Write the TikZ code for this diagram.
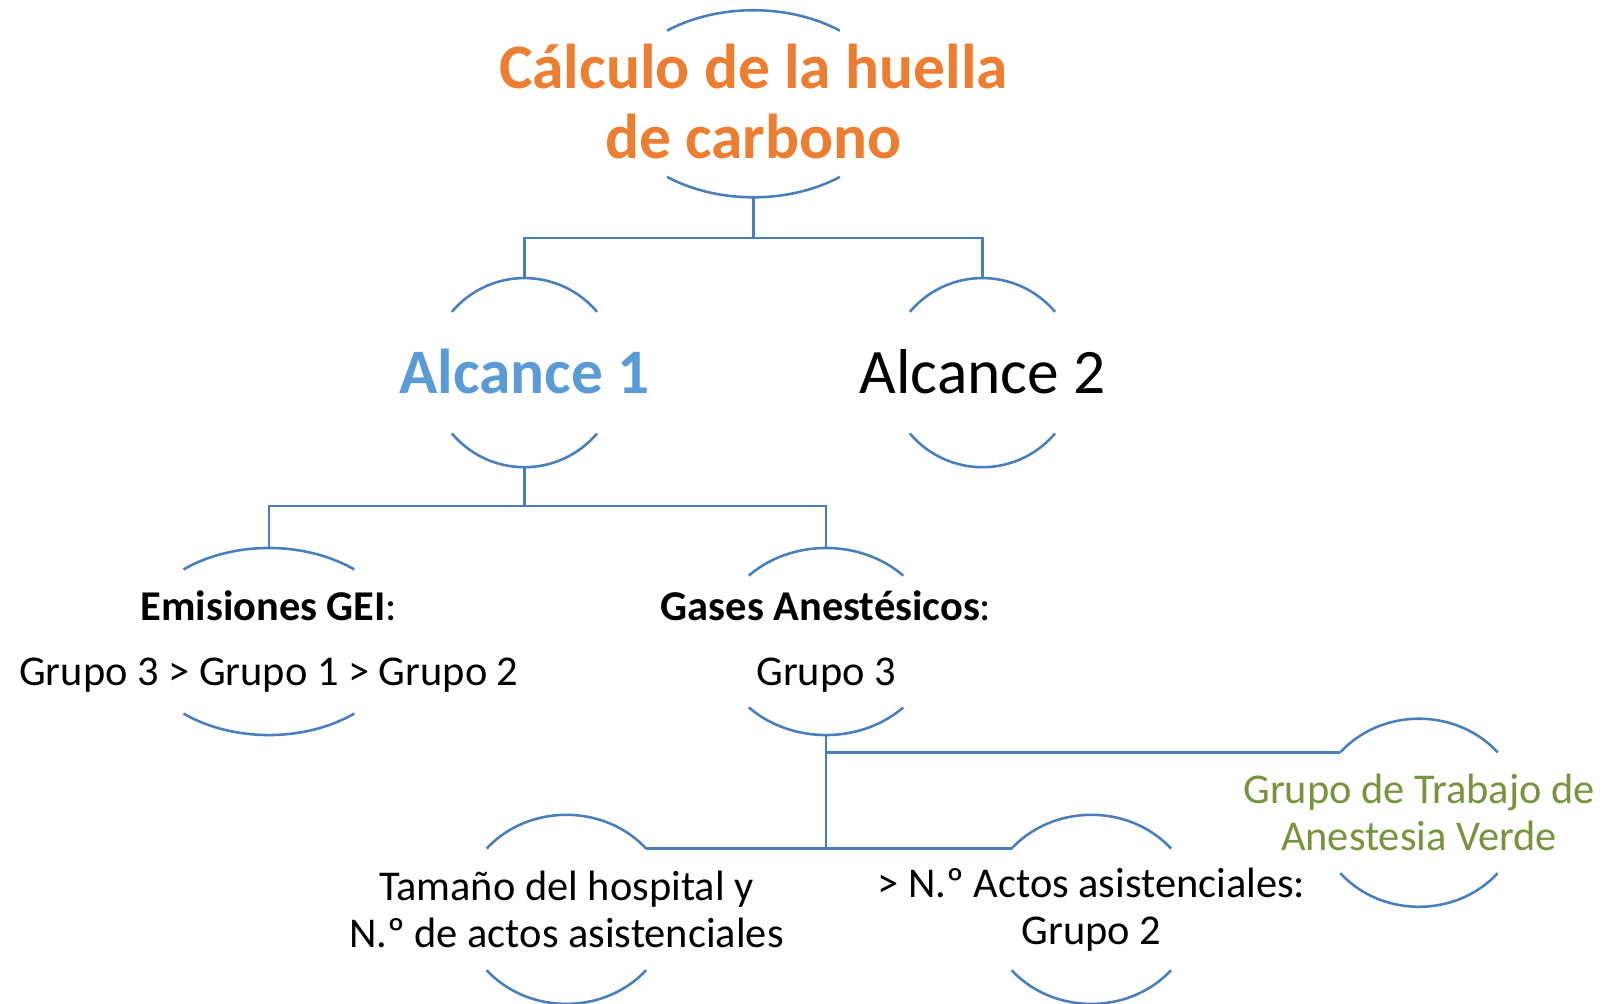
\documentclass[tikz,border=0pt]{standalone}
\usepackage{fontspec}
\setmainfont{Carlito}
\definecolor{linecol}{HTML}{4A7EBB}
\definecolor{orangec}{HTML}{ED7D31}
\definecolor{bluec}{HTML}{5B9BD5}
\definecolor{greenc}{HTML}{77933C}
\tikzset{
  ringarc/.style={draw=linecol, line width=2.5pt},
  conn/.style={draw=linecol, line width=2.5pt},
  bigreg/.style={font=\fontsize{62}{68}\selectfont, align=center, inner sep=0pt},
  bigbold/.style={font=\fontsize{62}{68}\selectfont\bfseries, align=center, inner sep=0pt},
  smalltxt/.style={font=\fontsize{41.5}{46}\selectfont, align=center, inner sep=0pt},
  smallwide/.style={font=\fontsize{41.5}{63}\selectfont, align=center, inner sep=0pt},
}
% name, cx, cy, a, b, theta
\newcommand\mkring[6]{%
  \coordinate (#1-c) at ({#2},{#3});
  \coordinate (#1-t) at ({#2},{#3-#5});
  \coordinate (#1-b) at ({#2},{#3+#5});
  \coordinate (#1-tl) at ({#2-#4*cos(#6)},{#3-#5*sin(#6)});
  \coordinate (#1-tr) at ({#2+#4*cos(#6)},{#3-#5*sin(#6)});
  \draw[ringarc] plot[domain=#6:180-#6, samples=40] ({#2+#4*cos(\x)},{#3-#5*sin(\x)});
  \draw[ringarc] plot[domain=#6:180-#6, samples=40] ({#2+#4*cos(\x)},{#3+#5*sin(\x)});
}
\begin{document}
\begin{tikzpicture}[x=1pt,y=-1pt]
\path[use as bounding box, fill=white] (0,0) rectangle (1568,982);

\mkring{T}{737}{101.5}{135.4}{91.5}{51.4}
\mkring{A1}{513}{364.5}{92.7}{92.5}{40}
\mkring{A2}{961}{364.5}{92.7}{92.5}{40}
\mkring{E}{263}{627.5}{131}{91.5}{50.4}
\mkring{G}{808}{627.5}{106.4}{91.5}{44.8}
\mkring{V}{1388}{795}{100.4}{92}{39.9}
\mkring{H}{554}{889.5}{101.8}{92.5}{40}
\mkring{N}{1067.5}{889.5}{101.8}{92.5}{40}

\node[bigbold, text=orangec, yshift=2pt] (Tt) at (T-c) {Cálculo de la huella\\de carbono};
\node[bigbold, text=bluec, yshift=1pt] (A1t) at (A1-c) {Alcance 1};
\node[bigreg, text=black, yshift=1pt] (A2t) at (A2-c) {Alcance 2};
\node[smallwide] (Et) at (E-c) {\textbf{Emisiones GEI}:\\Grupo 3 > Grupo 1 > Grupo 2};
\node[smallwide] (Gt) at (G-c) {\textbf{Gases Anestésicos}:\\Grupo 3};
\node[smalltxt, text=greenc] (Vt) at (V-c) {Grupo de Trabajo de\\Anestesia Verde};
\node[smalltxt] (Ht) at (H-c) {Tamaño del hospital y\\N.º de actos asistenciales};
\node[smalltxt] (Nt) at (N-c) {> N.º Actos asistenciales:\\Grupo 2};

\coordinate (j1) at (737,233);
\coordinate (j2) at (513,495);
\draw[conn] (T-b) -- (j1) -| (A1-t);
\draw[conn] (j1) -| (A2-t);
\draw[conn] (A1-b) -- (j2) -| (E-t);
\draw[conn] (j2) -| (G-t);
\draw[conn] (G-b) -- (G-b |- H-tr);
\draw[conn] (H-tr) -- (N-tl);
\draw[conn] (G-b |- V-tl) -- (V-tl);
\end{tikzpicture}
\end{document}
